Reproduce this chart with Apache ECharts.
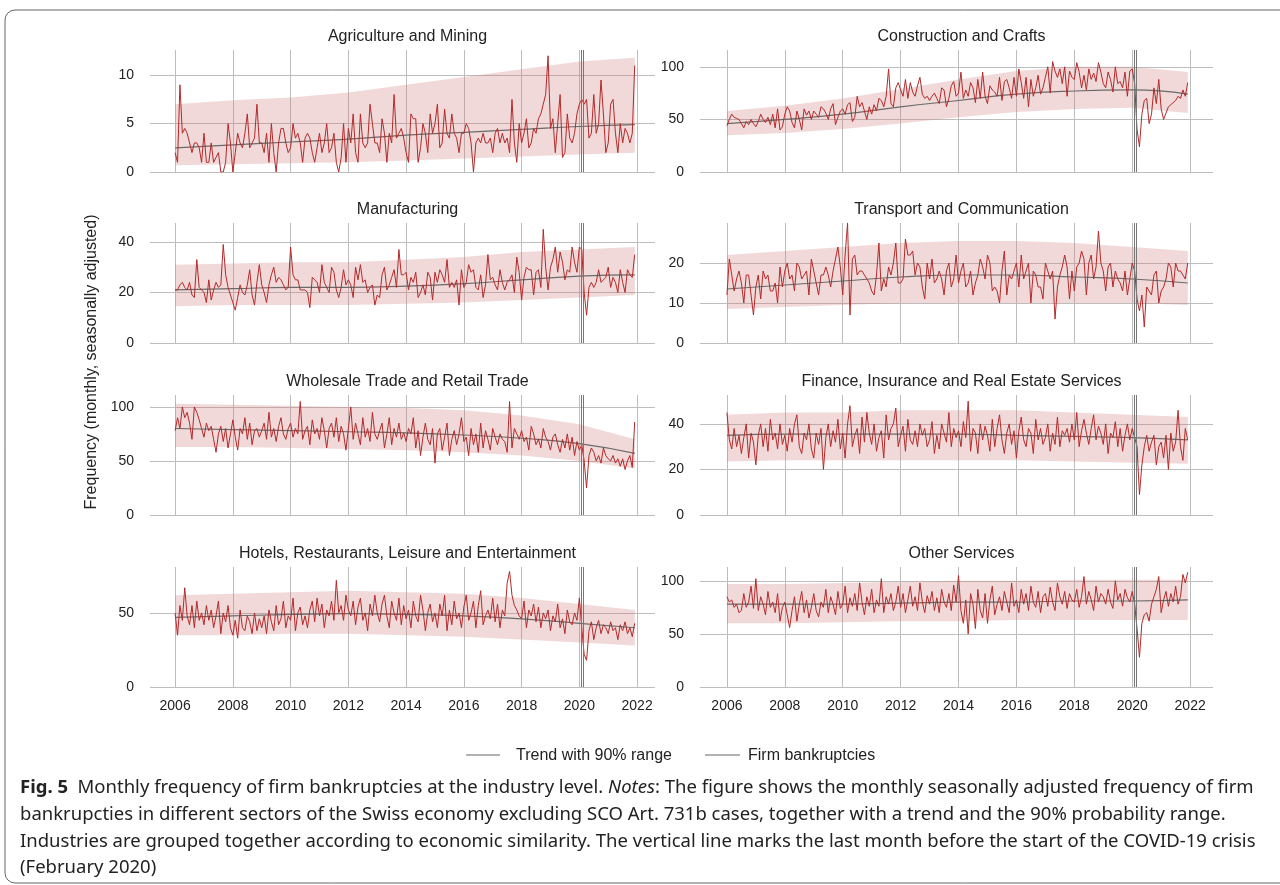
<!DOCTYPE html>
<html>
<head>
<meta charset="utf-8">
<script src="https://cdn.jsdelivr.net/npm/echarts@6/dist/echarts.min.js"></script>
<style>
html, body { margin: 0; padding: 0; background: #fff; }
#figure { width: 1280px; height: 885px; }
</style>
</head>
<body>
<div id="figure"></div>
<script>
// monthly values Jan 2006 .. Dec 2021, one row per year
let agriculture = [
    2,1,9,4,4.5,4,3,2,3,3,2.5,1,
    4,1,1,3,1,1.5,2,0,0,1,5,3,
    0,2,4,3,2.5,4,6,2.5,3,3.5,7,3,
    3,2,4,1,5,2,0,3,4.5,4.5,3,2,
    2.5,5,3.5,4,3,1,3.5,4,3.5,2,1,2.5,
    4,2,3,5,2,2.5,4,1,0,1.5,5,1,
    4.5,3,6,2,1,6,3,2.5,3,7,5,3,
    3,2,5.5,4,1,4,3,8,3.5,4,4.5,3.5,
    2,1,6,5.5,5.5,1,2.5,5,4,2,6,4,
    5,7,2.5,3,6.5,4,3.5,6,4,3.5,2,4,
    4,5,4.5,3,0,3,3.5,3,4,3,3,3.5,
    2,4,4.5,3,4,3,3.5,2,7.5,3,1,5,
    3,4,5.5,2.5,3,4.5,4,5.5,6,7,8,12,
    4.5,5.5,2,5,8,1.5,2,6,3.5,3,4,6,
    7,7.5,7,7.5,3.5,4,8,4,5,9.5,6,2,
    3,7,7.5,4,2,5,3,4.5,4,3,4,11
];
let construction = [
    44,50,55,52,51,50,46,42,48,45,50,46,
    43,48,55,50,47,52,45,55,42,60,40,43,
    55,62,58,47,42,58,50,40,60,54,58,50,
    58,55,52,62,60,56,50,60,65,45,52,58,
    60,55,64,66,48,52,72,62,66,58,50,62,
    55,64,58,70,68,62,72,98,65,62,80,85,
    78,72,88,70,85,76,72,82,90,74,70,72,
    68,72,75,70,65,80,78,62,70,82,86,72,
    75,95,70,78,72,85,80,66,88,70,95,72,
    65,82,78,76,72,90,68,86,88,80,70,90,
    72,98,85,70,90,62,88,72,80,92,74,80,
    90,100,75,105,96,90,98,84,100,72,96,90,
    88,104,95,80,92,78,98,88,94,86,104,95,
    84,80,95,88,76,100,84,86,80,95,72,96,
    98,84,40,24,55,68,70,46,55,80,65,88,
    60,50,56,62,64,66,68,72,70,78,72,85
];
let manufacturing = [
    21,21,23,24,22,21,24,19,18,33,22,21,
    20,16,25,17,21,24,22,23,39,27,22,19,
    16,13,18,23,20,19,23,29,19,15,24,31,
    23,20,16,23,27,30,24,26,25,23,21,22,
    38,27,25,25,21,21,21,20,14,26,25,24,
    20,31,24,22,20,30,28,21,18,22,29,23,
    25,23,18,30,25,31,24,25,20,22,23,15,
    19,18,27,30,21,23,26,29,22,37,27,27,
    28,21,26,24,28,18,20,23,19,28,26,17,
    28,24,29,27,24,33,22,24,22,25,15,29,
    22,24,31,28,29,22,21,27,18,23,35,25,
    26,23,21,29,24,21,24,25,27,20,34,28,
    17,26,30,29,29,19,28,29,22,45,30,21,
    30,33,38,28,36,32,25,29,28,38,32,28,
    38,37,20,11,22,24,22,24,29,24,25,26,
    30,22,26,24,20,29,24,20,29,27,26,35
];
let transport = [
    12,21,17,13,16,18,15,10,17,17,12,7,
    14,17,11,18,16,17,13,13,15,10,19,14,
    18,20,16,17,13,20,19,16,17,18,12,21,
    18,15,12,17,17,19,17,14,18,21,24,19,
    12,22,30,7,21,22,17,18,18,17,16,15,
    13,12,17,25,13,16,14,19,17,20,25,15,
    15,16,26,22,22,23,17,20,19,14,11,20,
    16,21,15,16,18,16,12,18,20,14,16,22,
    15,18,20,14,15,18,12,15,17,21,19,16,
    22,20,13,14,13,10,18,23,12,17,16,18,
    20,14,22,16,18,20,10,18,17,14,14,11,
    20,18,16,18,6,14,17,19,22,19,11,18,
    13,19,20,23,21,12,20,22,16,19,28,20,
    18,13,19,20,14,18,16,15,13,18,12,16,
    20,18,11,8,12,4,14,13,12,17,18,10,
    13,14,16,20,19,14,20,18,18,17,16,20
];
let wholesale = [
    78,90,80,100,90,95,85,70,100,95,88,80,
    72,85,78,82,70,58,75,82,68,80,62,75,
    88,72,60,80,75,90,70,85,65,78,80,72,
    78,85,70,95,72,80,68,82,90,75,70,80,
    85,72,80,75,105,70,78,82,65,88,75,80,
    70,90,78,62,80,85,72,90,68,82,75,60,
    80,100,70,85,75,65,90,72,80,68,95,75,
    70,78,85,62,75,90,65,80,72,85,70,76,
    68,80,75,90,62,78,55,72,85,70,65,80,
    48,75,80,60,72,85,55,70,78,65,75,90,
    68,72,55,80,65,75,58,85,62,78,70,60,
    80,72,65,75,70,68,58,105,62,80,75,70,
    78,68,72,60,82,75,65,70,62,80,72,68,
    60,72,75,65,58,70,62,75,60,72,55,68,
    60,65,50,25,55,62,58,50,55,48,62,55,
    52,50,55,48,52,45,52,42,50,55,44,86
];
let finance = [
    45,33,29,38,30,35,27,34,40,25,36,32,
    22,35,40,30,38,28,42,33,36,29,40,31,
    35,28,38,32,40,44,30,27,36,33,40,29,
    25,36,31,38,20,34,40,30,37,32,42,29,
    36,25,40,48,30,35,38,27,43,32,45,36,
    31,40,28,34,37,25,44,33,38,40,47,30,
    35,39,28,42,33,31,37,30,40,35,38,30,
    33,41,27,35,29,40,36,32,45,30,38,34,
    37,30,41,34,50,28,38,36,27,40,33,39,
    35,28,42,30,38,44,33,27,36,40,31,37,
    25,37,43,33,30,38,36,27,42,33,38,31,
    34,40,28,36,31,43,30,37,35,38,32,40,
    33,45,30,37,42,36,31,38,44,33,39,36,
    31,40,27,36,34,41,30,38,28,35,40,33,
    38,34,30,9,22,30,35,28,32,35,22,30,
    32,25,35,20,36,28,32,46,30,24,38,33
];
let hotels = [
    50,35,55,45,67,48,42,55,40,58,45,50,
    42,55,45,52,40,48,58,36,50,44,55,40,
    35,45,33,52,40,38,48,44,36,50,38,46,
    40,48,36,52,44,38,55,42,46,58,40,48,
    45,60,38,50,54,42,48,40,52,58,44,60,
    48,56,40,52,48,58,45,72,50,55,45,62,
    52,48,58,42,54,60,45,50,38,56,48,62,
    50,44,56,62,48,40,58,50,45,60,42,55,
    46,52,40,58,48,44,62,52,38,50,56,44,
    50,40,56,48,62,38,52,42,58,46,50,40,
    54,62,45,50,58,40,55,65,42,48,52,46,
    60,44,56,40,52,48,70,78,62,55,52,48,
    46,58,40,52,48,56,44,54,40,50,46,52,
    38,48,44,56,40,46,36,52,44,42,50,45,
    60,40,22,18,38,44,32,40,45,36,42,40,
    36,44,38,40,32,42,38,44,36,40,34,43
];
let otherServices = [
    85,80,82,75,78,70,72,88,75,80,95,74,
    102,72,85,78,68,90,75,80,70,88,62,75,
    80,68,56,72,85,62,78,90,70,82,65,75,
    88,72,66,80,75,92,70,85,78,68,90,74,
    78,95,70,84,76,88,72,98,80,68,85,76,
    92,70,82,76,102,70,85,78,88,72,80,95,
    75,88,70,82,95,76,85,72,98,80,70,86,
    78,90,72,84,70,92,80,75,88,72,96,80,
    105,72,60,82,50,88,78,55,92,72,65,88,
    60,82,95,68,78,85,72,90,80,70,98,76,
    82,70,92,78,88,72,95,80,75,90,70,85,
    88,76,94,80,72,98,85,78,90,74,88,82,
    80,92,75,85,104,78,90,82,72,95,80,88,
    85,78,92,80,74,100,82,88,76,92,84,80,
    90,78,55,28,60,68,70,62,78,85,92,104,
    70,82,90,76,88,80,95,78,85,106,98,108
];

// trend and 90% range, read at these years
let trendYears = [2006, 2008, 2010, 2012, 2014, 2016, 2018, 2020, 2021.92];
let agriTrend = [2.5,2.8,3.1,3.4,3.8,4.1,4.4,4.7,4.9];
let agriLow = [0.7,0.8,0.9,1.0,1.2,1.4,1.6,1.8,2.0];
let agriHigh = [7.0,7.4,7.7,8.2,9.0,9.8,10.6,11.4,11.8];
let consTrend = [46,50,55,62,68,74,77,78,74];
let consLow = [35,37,41,46,52,57,60,61,56];
let consHigh = [58,63,70,79,88,96,100,100,95];
let manuTrend = [21,21.5,22,22,22.5,23.5,25,26.5,27];
let manuLow = [14.5,15,15,15,15.5,16,17,18,19];
let manuHigh = [31,31.5,32,32,33,34,36,37,38];
let tranTrend = [13.5,14.5,15.5,16.5,17,17,16.5,16,15];
let tranLow = [8.5,9,9.5,10,10,10,10,10,9.5];
let tranHigh = [22,23,24,25,25.5,25.5,25,24,23];
let wholTrend = [80,79,78,77,76,74,71,66,57];
let wholLow = [63,63,62,61,60,58,55,50,43];
let wholHigh = [103,102,101,100,99,97,92,84,70];
let finTrend = [35,35.5,35.5,35.5,35.5,35,34.5,34,33];
let finLow = [23.5,24,24,24,24,24,23.5,23,22.5];
let finHigh = [44,45,45,46,46,46,45,44,43];
let hotTrend = [47,48,49,49.5,49,48,46,43,40];
let hotLow = [35,35,36,36,35,34,32,30,28];
let hotHigh = [62,63,64,65,64,63,60,56,52];
let othTrend = [78,78,78,79,80,80,81,81,82];
let othLow = [60,60,61,62,62,63,63,63,63];
let othHigh = [97,97,98,99,100,100,101,101,101];

let yearTicks = [2006, 2008, 2010, 2012, 2014, 2016, 2018, 2020, 2022];

let panels = [
    {title: 'Agriculture and Mining', v: agriculture, t: agriTrend, lo: agriLow, hi: agriHigh, max: 12.6, ticks: [0, 5, 10]},
    {title: 'Construction and Crafts', v: construction, t: consTrend, lo: consLow, hi: consHigh, max: 116, ticks: [0, 50, 100]},
    {title: 'Manufacturing', v: manufacturing, t: manuTrend, lo: manuLow, hi: manuHigh, max: 47.5, ticks: [0, 20, 40]},
    {title: 'Transport and Communication', v: transport, t: tranTrend, lo: tranLow, hi: tranHigh, max: 30, ticks: [0, 10, 20]},
    {title: 'Wholesale Trade and Retail Trade', v: wholesale, t: wholTrend, lo: wholLow, hi: wholHigh, max: 111, ticks: [0, 50, 100]},
    {title: 'Finance, Insurance and Real Estate Services', v: finance, t: finTrend, lo: finLow, hi: finHigh, max: 52.7, ticks: [0, 20, 40]},
    {title: 'Hotels, Restaurants, Leisure and Entertainment', v: hotels, t: hotTrend, lo: hotLow, hi: hotHigh, max: 81, ticks: [0, 50]},
    {title: 'Other Services', v: otherServices, t: othTrend, lo: othLow, hi: othHigh, max: 113, ticks: [0, 50, 100]}
];

let rowTops = [50, 223, 395, 567];
let rowHeights = [122, 120, 120, 120];
let cols = [{left: 150, width: 505, min: 2005.13, max: 2022.62}, {left: 700, width: 513, min: 2005.07, max: 2022.79}];
let font = 'Liberation Sans, Arial, sans-serif';

// band polygon: upper edge forward, lower edge back, mapped through the axes
function renderBand(lo, hi) {
    return function (params, api) {
        if (params.dataIndex !== 0) return;
        let pts = [];
        for (let k = 0; k < trendYears.length; k++) pts.push(api.coord([trendYears[k], hi[k]]));
        for (let k = trendYears.length - 1; k >= 0; k--) pts.push(api.coord([trendYears[k], lo[k]]));
        return {
            type: 'polygon', shape: {points: pts},
            style: {fill: 'rgba(205, 120, 120, 0.28)'}
        };
    };
}

let grids = [], xAxes = [], yAxes = [], series = [], titles = [];
panels.forEach(function (p, i) {
    let row = Math.floor(i / 2), col = cols[i % 2];
    grids.push({left: col.left, top: rowTops[row], width: col.width, height: rowHeights[row]});
    titles.push({
        text: p.title, left: col.left + col.width / 2, top: rowTops[row] - 26, textAlign: 'center',
        textStyle: {fontFamily: font, fontSize: 16, fontWeight: 'normal', color: '#222'}
    });
    xAxes.push({
        type: 'value', gridIndex: i, min: col.min, max: col.max,
        axisLine: {show: false},
        axisTick: {show: false, customValues: yearTicks},
        axisLabel: {show: row === 3, customValues: yearTicks, formatter: function (v) { return String(Math.round(v)); },
            fontFamily: font, fontSize: 14, color: '#222', margin: 12},
        splitLine: {show: true, lineStyle: {color: '#bdbdbd', width: 1}}
    });
    yAxes.push({
        type: 'value', gridIndex: i, min: 0, max: p.max,
        axisLine: {show: false},
        axisTick: {show: false, customValues: p.ticks},
        axisLabel: {customValues: p.ticks, fontFamily: font, fontSize: 14, color: '#222', margin: 16},
        splitLine: {show: true, lineStyle: {color: '#bdbdbd', width: 1}}
    });
    let pts = p.v.map(function (y, k) { return [2006 + k / 12, y]; });
    let tr = trendYears.map(function (x, k) { return [x, p.t[k]]; });
    let bandData = trendYears.map(function (x, k) { return [x, p.lo[k], p.hi[k]]; });
    series.push({
        type: 'custom', xAxisIndex: i, yAxisIndex: i, data: bandData, silent: true,
        encode: {x: 0, y: [1, 2]}, renderItem: renderBand(p.lo, p.hi), z: 1
    });
    series.push({
        type: 'line', xAxisIndex: i, yAxisIndex: i, data: tr, smooth: true, z: 3,
        symbol: 'none', lineStyle: {color: '#6a6a6a', width: 1.2}, silent: true
    });
    series.push({
        type: 'line', xAxisIndex: i, yAxisIndex: i, data: pts, z: 4,
        symbol: 'none', lineStyle: {color: '#b22a2a', width: 1}, silent: true,
        markLine: {
            symbol: 'none', silent: true, label: {show: false},
            lineStyle: {color: '#777', width: 1, type: 'solid'},
            data: [{xAxis: 2020.07}, {xAxis: 2020.14}]
        }
    });
});

let captionFont = '"Noto Sans", "Open Sans", sans-serif';
let captionLines = [
    '{b|Fig. 5}  Monthly frequency of firm bankruptcies at the industry level. {i|Notes}: The figure shows the monthly seasonally adjusted frequency of firm',
    'bankrupcties in different sectors of the Swiss economy excluding SCO Art. 731b cases, together with a trend and the 90% probability range.',
    'Industries are grouped together according to economic similarity. The vertical line marks the last month before the start of the COVID-19 crisis',
    '(February 2020)'
];
let graphics = [
    {type: 'rect', shape: {x: 5, y: 10, width: 1300, height: 873, r: 10}, style: {fill: 'none', stroke: '#666', lineWidth: 1}},
    {type: 'text', rotation: Math.PI / 2, x: 92, y: 362, style: {text: 'Frequency (monthly, seasonally adjusted)', font: '16px ' + font, fill: '#222', textAlign: 'center', textVerticalAlign: 'middle'}},
    {type: 'line', shape: {x1: 466, y1: 755, x2: 500, y2: 755}, style: {stroke: '#666', lineWidth: 1}},
    {type: 'text', x: 516, y: 756, style: {text: 'Trend with 90% range', font: '16px ' + font, fill: '#222', textVerticalAlign: 'middle'}},
    {type: 'line', shape: {x1: 705, y1: 755, x2: 740, y2: 755}, style: {stroke: '#666', lineWidth: 1}},
    {type: 'text', x: 748, y: 756, style: {text: 'Firm bankruptcies', font: '16px ' + font, fill: '#222', textVerticalAlign: 'middle'}}
];
captionLines.forEach(function (line, k) {
    graphics.push({
        type: 'text', x: 20, y: 788 + k * 26.7,
        style: {
            text: line, fontFamily: captionFont, fontSize: 18.5, fill: '#222', textVerticalAlign: 'middle',
            rich: {
                b: {fontFamily: captionFont, fontSize: 18.5, fontWeight: 'bold', fill: '#222'},
                i: {fontFamily: captionFont, fontSize: 18.5, fontStyle: 'italic', fill: '#222'}
            }
        }
    });
});

let myChart = echarts.init(document.getElementById('figure'));
myChart.setOption({
    animation: false,
    backgroundColor: '#fff',
    title: titles,
    grid: grids,
    xAxis: xAxes,
    yAxis: yAxes,
    series: series,
    graphic: graphics
});
</script>
</body>
</html>
